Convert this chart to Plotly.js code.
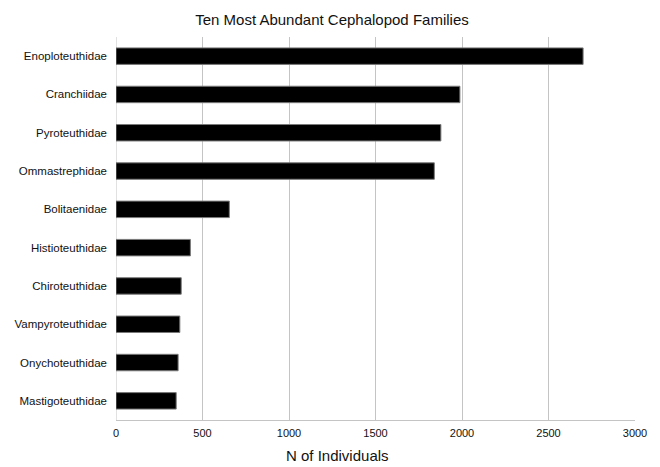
<!DOCTYPE html>
<html><head><meta charset="utf-8">
<script src="https://cdn.plot.ly/plotly-3.0.1.min.js"></script>
<style>html,body{margin:0;padding:0;background:#fff}#chart{width:660px;height:467px}</style>
</head><body><div id="chart"></div>
<script>
const families = ["Enoploteuthidae","Cranchiidae","Pyroteuthidae","Ommastrephidae","Bolitaenidae","Histioteuthidae","Chiroteuthidae","Vampyroteuthidae","Onychoteuthidae","Mastigoteuthidae"];
const counts = [2700, 1988, 1878, 1840, 655, 430, 377, 369, 359, 348];
const xTicks = [0, 500, 1000, 1500, 2000, 2500, 3000];

const fontFam = "Liberation Sans, Arial, Helvetica, sans-serif";
Plotly.newPlot("chart", [{
  type: "bar", orientation: "h",
  x: counts, y: families,
  marker: {color: "#000000", line: {color: "#7a7a7a", width: 1}},
  hoverinfo: "x+y"
}], {
  width: 660, height: 467,
  margin: {l: 116, r: 25, t: 37, b: 47, pad: 0},
  paper_bgcolor: "#fff", plot_bgcolor: "#fff",
  bargap: 0.57,
  font: {family: fontFam, color: "#000", size: 11},
  title: {text: "Ten Most Abundant Cephalopod Families", font: {size: 15, family: fontFam, color: "#111"}, x: 0.503, xanchor: "center", y: 0.957, yanchor: "middle"},
  xaxis: {
    range: [0, 3000], tickvals: xTicks, ticktext: xTicks.map(String),
    showgrid: true, gridcolor: "#c4c4c4", gridwidth: 1,
    showline: true, linecolor: "#c4c4c4", linewidth: 1, mirror: false,
    zeroline: false, ticks: "", ticklabelstandoff: 3,
    tickfont: {size: 11, color: "#111", family: fontFam}
  },
  yaxis: {
    autorange: "reversed", showgrid: false, zeroline: false,
    showline: false, ticks: "", ticklen: 0, ticklabelstandoff: 8,
    tickfont: {size: 11.5, color: "#111", family: fontFam}
  },
  annotations: [{
    text: "N of Individuals", xref: "paper", yref: "paper",
    x: 0.426, y: -0.092, xanchor: "center", yanchor: "middle",
    showarrow: false, font: {size: 15, color: "#111", family: fontFam}
  }],
  shapes: [{type: "line", xref: "x", yref: "paper", x0: 0, x1: 0, y0: 0, y1: 1, line: {color: "#c4c4c4", width: 1}, layer: "below"}],
  showlegend: false
}, {displayModeBar: false, staticPlot: true});
</script></body></html>
